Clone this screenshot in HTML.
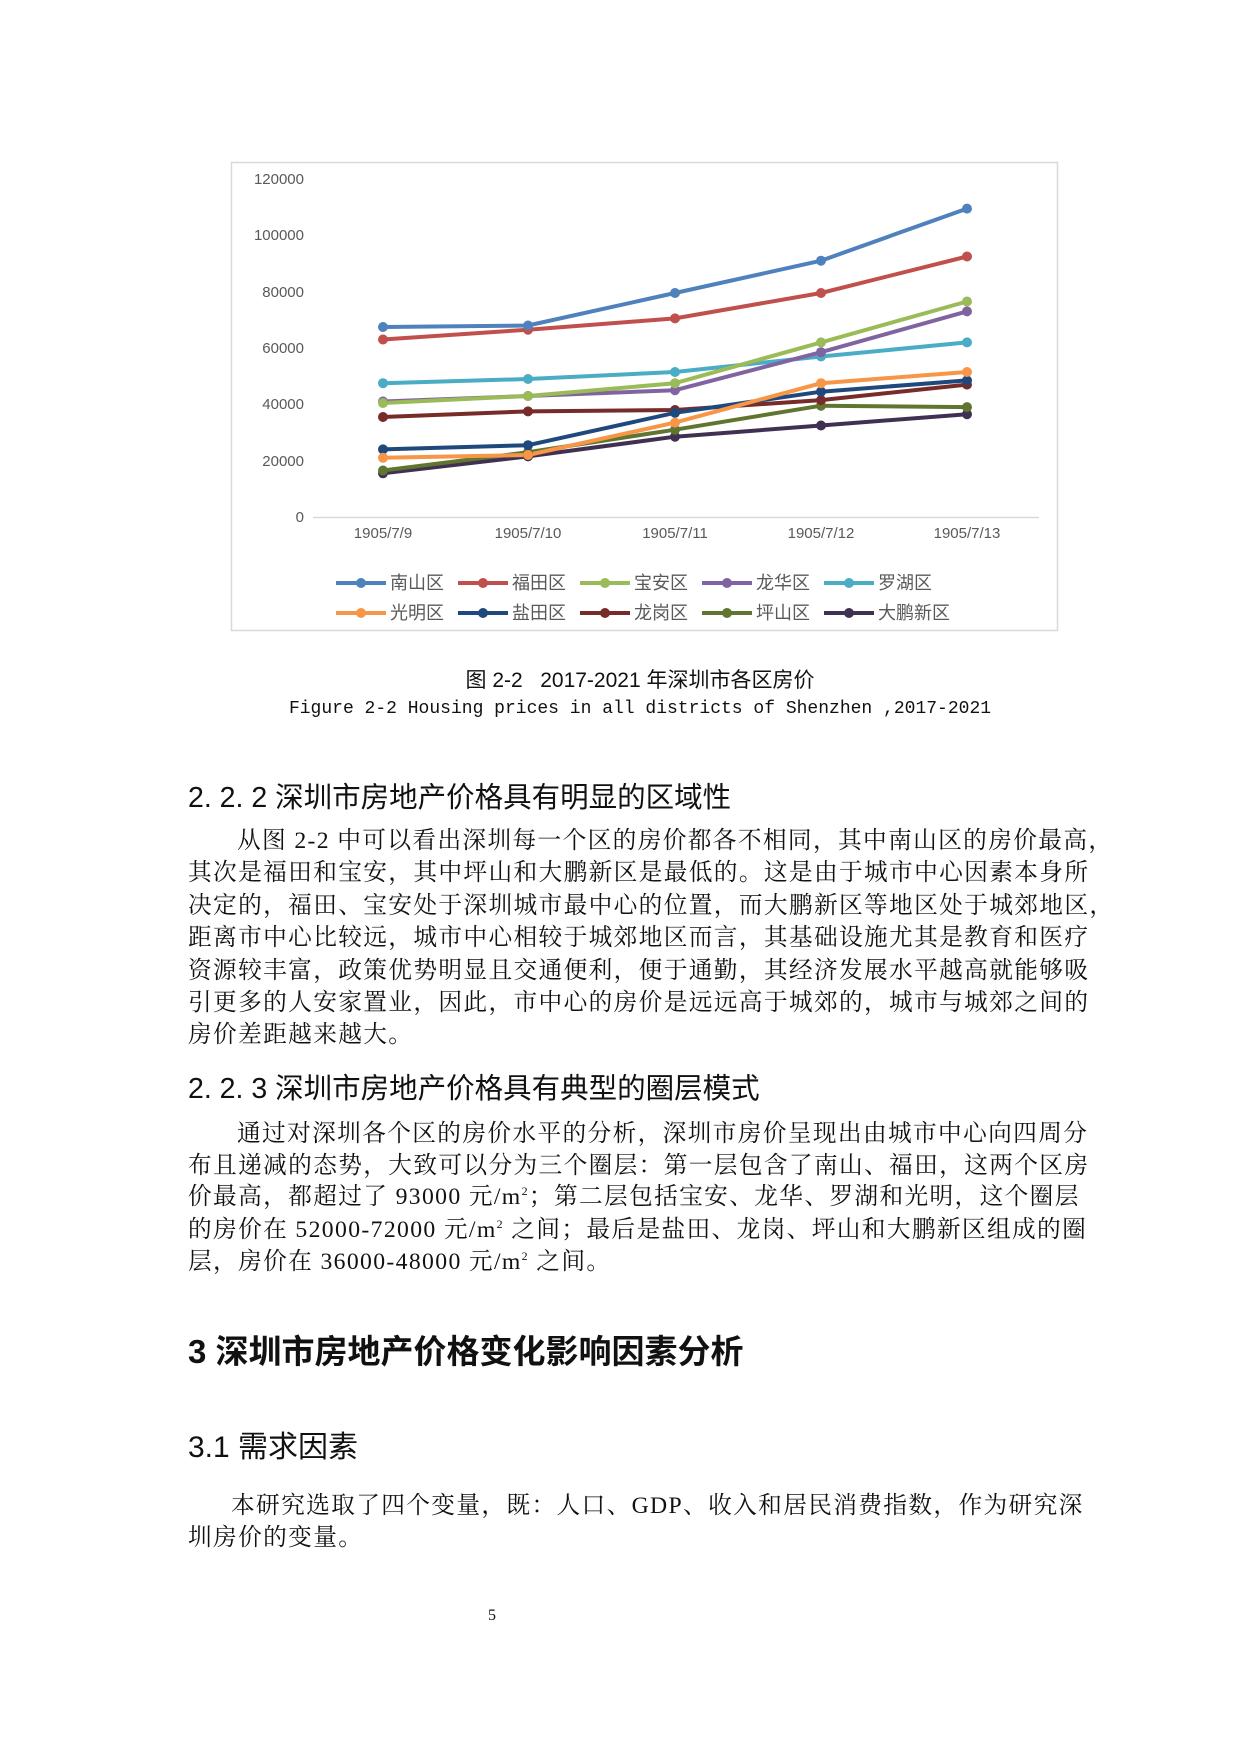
<!DOCTYPE html>
<html><head><meta charset="utf-8">
<style>
html,body{margin:0;padding:0;background:#fff;}
#p{position:relative;width:1240px;height:1754px;overflow:hidden;background:#fff;}
.t{position:absolute;left:188px;width:960px;height:32px;line-height:32px;font-family:"Liberation Serif","Noto Serif CJK SC",serif;font-size:23.7px;letter-spacing:1.35px;color:#111;white-space:nowrap;}
.h{position:absolute;left:188px;font-family:"Liberation Sans","Noto Sans CJK SC",sans-serif;color:#111;white-space:nowrap;}
sup{font-size:12px;line-height:0;vertical-align:9px;}
</style></head><body><div id="p">
<svg width="1240" height="760" style="position:absolute;left:0;top:0" font-family="Liberation Sans, Noto Sans CJK SC, sans-serif">
<rect x="231.5" y="162.5" width="826" height="468" fill="#fff" stroke="#d9d9d9" stroke-width="1.5"/>
<line x1="313" y1="517.5" x2="1039" y2="517.5" stroke="#d9d9d9" stroke-width="1.5"/>
<g font-size="15" fill="#595959" text-anchor="end">
<text x="304" y="184">120000</text><text x="304" y="240">100000</text><text x="304" y="297">80000</text>
<text x="304" y="353">60000</text><text x="304" y="409">40000</text><text x="304" y="466">20000</text><text x="304" y="522">0</text>
</g>
<g font-size="15" fill="#595959" text-anchor="middle">
<text x="383" y="538">1905/7/9</text><text x="528" y="538">1905/7/10</text><text x="675" y="538">1905/7/11</text><text x="821" y="538">1905/7/12</text><text x="967" y="538">1905/7/13</text>
</g>
<g fill="none" stroke-width="4" stroke-linejoin="round">
<polyline stroke="#403152" points="383,473.3 528,456.4 675,436.7 821,425.5 967,414.2"/>
<polyline stroke="#5f7530" points="383,470.5 528,452.2 675,429.7 821,405.7 967,407.1"/>
<polyline stroke="#772c2a" points="383,417 528,411.4 675,410 821,400.1 967,384.6"/>
<polyline stroke="#1f497d" points="383,449.4 528,445.2 675,412.8 821,391.7 967,380.4"/>
<polyline stroke="#f79646" points="383,457.8 528,455 675,422.6 821,383.2 967,372"/>
<polyline stroke="#4bacc6" points="383,383.2 528,379 675,372 821,356.5 967,342.4"/>
<polyline stroke="#8064a2" points="383,401.5 528,396 675,390.2 821,352.2 967,311.4"/>
<polyline stroke="#9bbb59" points="383,403 528,396 675,383.2 821,342.4 967,301.5"/>
<polyline stroke="#c0504d" points="383,339.5 528,329.7 675,318.4 821,293 967,256.5"/>
<polyline stroke="#4f81bd" points="383,327 528,325.5 675,293 821,260.7 967,208.6"/>
</g>
<g>
<g fill="#403152"><circle cx="383" cy="473.3" r="5"/><circle cx="528" cy="456.4" r="5"/><circle cx="675" cy="436.7" r="5"/><circle cx="821" cy="425.5" r="5"/><circle cx="967" cy="414.2" r="5"/></g>
<g fill="#5f7530"><circle cx="383" cy="470.5" r="5"/><circle cx="528" cy="452.2" r="5"/><circle cx="675" cy="429.7" r="5"/><circle cx="821" cy="405.7" r="5"/><circle cx="967" cy="407.1" r="5"/></g>
<g fill="#772c2a"><circle cx="383" cy="417" r="5"/><circle cx="528" cy="411.4" r="5"/><circle cx="675" cy="410" r="5"/><circle cx="821" cy="400.1" r="5"/><circle cx="967" cy="384.6" r="5"/></g>
<g fill="#1f497d"><circle cx="383" cy="449.4" r="5"/><circle cx="528" cy="445.2" r="5"/><circle cx="675" cy="412.8" r="5"/><circle cx="821" cy="391.7" r="5"/><circle cx="967" cy="380.4" r="5"/></g>
<g fill="#f79646"><circle cx="383" cy="457.8" r="5"/><circle cx="528" cy="455" r="5"/><circle cx="675" cy="422.6" r="5"/><circle cx="821" cy="383.2" r="5"/><circle cx="967" cy="372" r="5"/></g>
<g fill="#4bacc6"><circle cx="383" cy="383.2" r="5"/><circle cx="528" cy="379" r="5"/><circle cx="675" cy="372" r="5"/><circle cx="821" cy="356.5" r="5"/><circle cx="967" cy="342.4" r="5"/></g>
<g fill="#8064a2"><circle cx="383" cy="401.5" r="5"/><circle cx="528" cy="396" r="5"/><circle cx="675" cy="390.2" r="5"/><circle cx="821" cy="352.2" r="5"/><circle cx="967" cy="311.4" r="5"/></g>
<g fill="#9bbb59"><circle cx="383" cy="403" r="5"/><circle cx="528" cy="396" r="5"/><circle cx="675" cy="383.2" r="5"/><circle cx="821" cy="342.4" r="5"/><circle cx="967" cy="301.5" r="5"/></g>
<g fill="#c0504d"><circle cx="383" cy="339.5" r="5"/><circle cx="528" cy="329.7" r="5"/><circle cx="675" cy="318.4" r="5"/><circle cx="821" cy="293" r="5"/><circle cx="967" cy="256.5" r="5"/></g>
<g fill="#4f81bd"><circle cx="383" cy="327" r="5"/><circle cx="528" cy="325.5" r="5"/><circle cx="675" cy="293" r="5"/><circle cx="821" cy="260.7" r="5"/><circle cx="967" cy="208.6" r="5"/></g>
</g>
<g font-size="18" fill="#595959" stroke-width="4">
<line x1="336" y1="583" x2="386" y2="583" stroke="#4f81bd"/><circle cx="361" cy="583" r="5" fill="#4f81bd"/><text x="390" y="589">南山区</text>
<line x1="458" y1="583" x2="508" y2="583" stroke="#c0504d"/><circle cx="483" cy="583" r="5" fill="#c0504d"/><text x="512" y="589">福田区</text>
<line x1="580" y1="583" x2="630" y2="583" stroke="#9bbb59"/><circle cx="605" cy="583" r="5" fill="#9bbb59"/><text x="634" y="589">宝安区</text>
<line x1="702" y1="583" x2="752" y2="583" stroke="#8064a2"/><circle cx="727" cy="583" r="5" fill="#8064a2"/><text x="756" y="589">龙华区</text>
<line x1="824" y1="583" x2="874" y2="583" stroke="#4bacc6"/><circle cx="849" cy="583" r="5" fill="#4bacc6"/><text x="878" y="589">罗湖区</text>
<line x1="336" y1="613" x2="386" y2="613" stroke="#f79646"/><circle cx="361" cy="613" r="5" fill="#f79646"/><text x="390" y="619">光明区</text>
<line x1="458" y1="613" x2="508" y2="613" stroke="#1f497d"/><circle cx="483" cy="613" r="5" fill="#1f497d"/><text x="512" y="619">盐田区</text>
<line x1="580" y1="613" x2="630" y2="613" stroke="#772c2a"/><circle cx="605" cy="613" r="5" fill="#772c2a"/><text x="634" y="619">龙岗区</text>
<line x1="702" y1="613" x2="752" y2="613" stroke="#5f7530"/><circle cx="727" cy="613" r="5" fill="#5f7530"/><text x="756" y="619">坪山区</text>
<line x1="824" y1="613" x2="874" y2="613" stroke="#403152"/><circle cx="849" cy="613" r="5" fill="#403152"/><text x="878" y="619">大鹏新区</text>
</g>
</svg>
<div class="h" style="left:0;width:1280px;text-align:center;top:664px;font-size:21px;">图 2-2&nbsp;&nbsp; 2017-2021 年深圳市各区房价</div>
<div class="h" style="left:0;width:1280px;text-align:center;top:699px;font-size:18px;font-family:'Liberation Mono',monospace;">Figure 2-2 Housing prices in all districts of Shenzhen ,2017-2021</div>

<div class="h" style="top:775px;font-size:28.5px;">2. 2. 2 深圳市房地产价格具有明显的区域性</div>
<div class="t" style="top:825px;padding-left:49px;">从图 2-2 中可以看出深圳每一个区的房价都各不相同，其中南山区的房价最高，</div>
<div class="t" style="top:857px;">其次是福田和宝安，其中坪山和大鹏新区是最低的。这是由于城市中心因素本身所</div>
<div class="t" style="top:890px;">决定的，福田、宝安处于深圳城市最中心的位置，而大鹏新区等地区处于城郊地区，</div>
<div class="t" style="top:922px;">距离市中心比较远，城市中心相较于城郊地区而言，其基础设施尤其是教育和医疗</div>
<div class="t" style="top:955px;">资源较丰富，政策优势明显且交通便利，便于通勤，其经济发展水平越高就能够吸</div>
<div class="t" style="top:987px;">引更多的人安家置业，因此，市中心的房价是远远高于城郊的，城市与城郊之间的</div>
<div class="t" style="top:1019px;">房价差距越来越大。</div>

<div class="h" style="top:1066px;font-size:28.5px;">2. 2. 3 深圳市房地产价格具有典型的圈层模式</div>
<div class="t" style="top:1118px;padding-left:49px;">通过对深圳各个区的房价水平的分析，深圳市房价呈现出由城市中心向四周分</div>
<div class="t" style="top:1150px;">布且递减的态势，大致可以分为三个圈层：第一层包含了南山、福田，这两个区房</div>
<div class="t" style="top:1181px;">价最高，都超过了 93000 元/m<sup>2</sup>；第二层包括宝安、龙华、罗湖和光明，这个圈层</div>
<div class="t" style="top:1214px;">的房价在 52000-72000 元/m<sup>2</sup> 之间；最后是盐田、龙岗、坪山和大鹏新区组成的圈</div>
<div class="t" style="top:1246px;">层，房价在 36000-48000 元/m<sup>2</sup> 之间。</div>

<div class="h" style="top:1325px;font-size:33px;font-weight:bold;">3 深圳市房地产价格变化影响因素分析</div>
<div class="h" style="top:1422px;font-size:30px;">3.1 需求因素</div>
<div class="t" style="top:1490px;padding-left:43px;">本研究选取了四个变量，既：人口、GDP、收入和居民消费指数，作为研究深</div>
<div class="t" style="top:1522px;">圳房价的变量。</div>
<div class="t" style="top:1600px;left:488px;width:20px;font-size:16px;letter-spacing:0;">5</div>
</div></body></html>
